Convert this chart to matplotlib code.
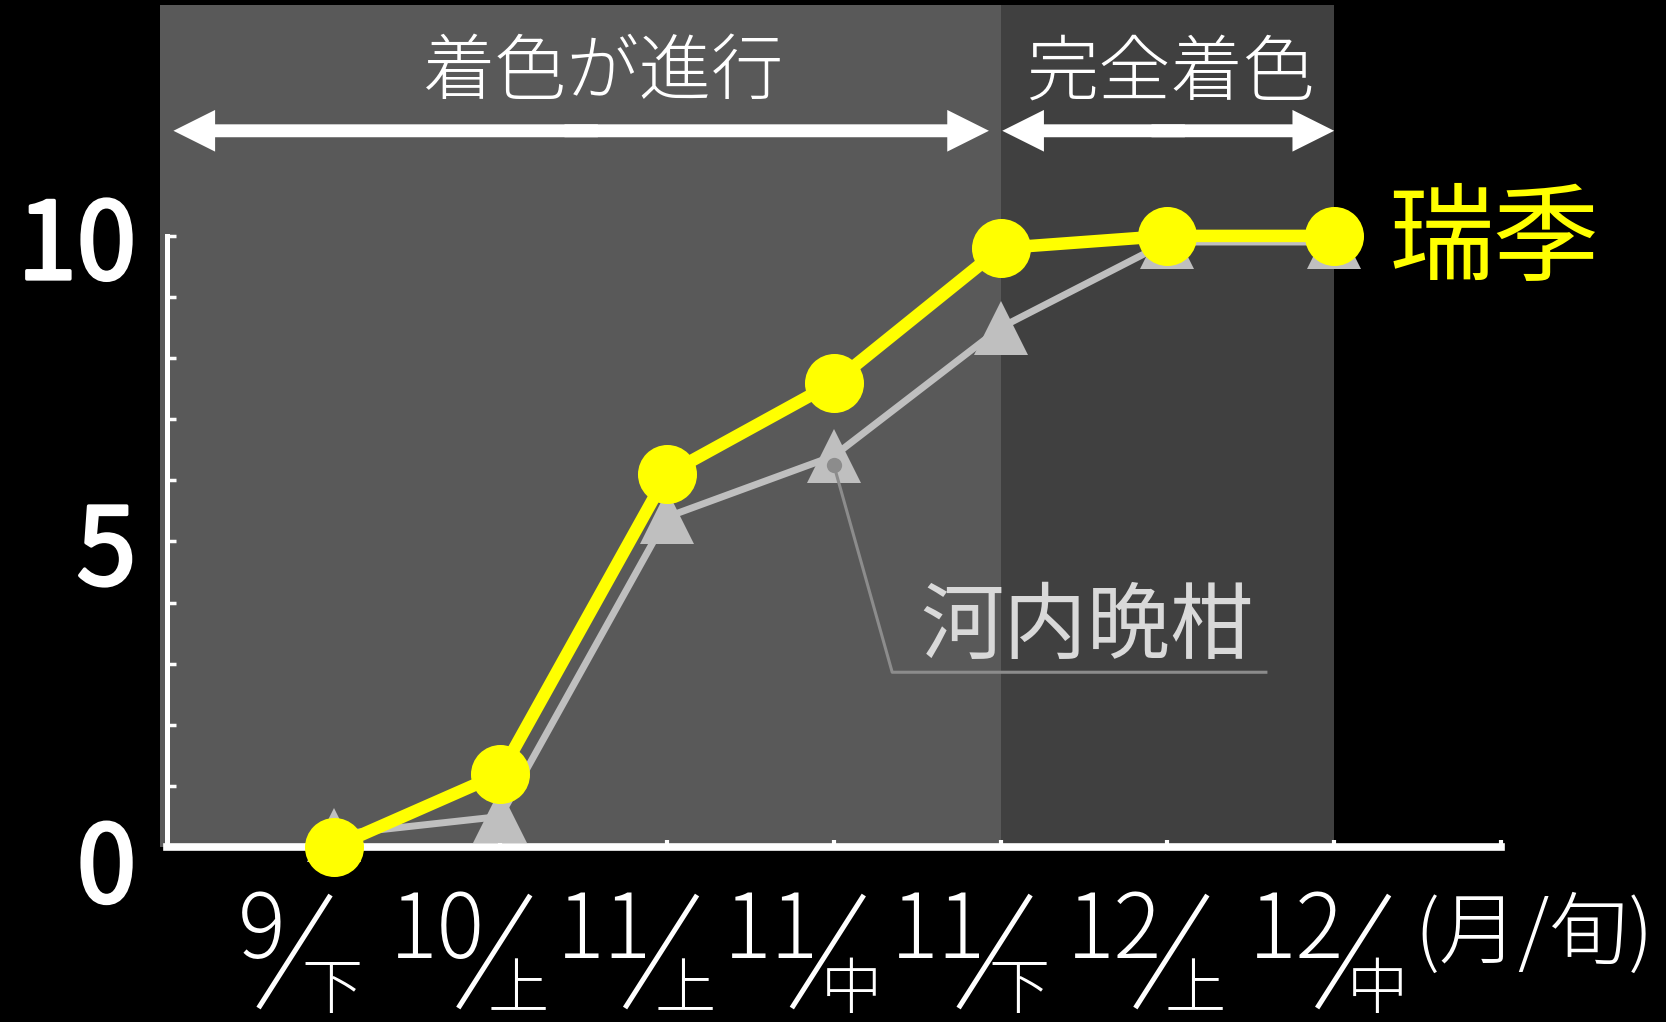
import matplotlib
matplotlib.use("Agg")
import matplotlib.pyplot as plt
import matplotlib.transforms as mtransforms
import matplotlib.patheffects as pe
from matplotlib.lines import Line2D

plt.rcParams['font.family'] = ['Noto Sans CJK JP', 'DejaVu Sans']

# 月 / 旬
months = ["9", "10", "11", "11", "11", "12", "12"]
periods = ["下", "上", "上", "中", "下", "上", "中"]
unit_label = "(月/旬)"

# coloring index (0-10)
zuiki = [0.0, 1.2, 6.1, 7.6, 9.8, 10.0, 10.0]
kawachi = [0.2, 0.5, 5.4, 6.4, 8.5, 9.9, 9.9]

phase_names = ["着色が進行", "完全着色"]
phase_spans = [(-1.04, 4.0), (4.0, 6.0)]
arrow_spans = [(-0.96, 3.93), (4.01, 6.0)]
phase_label_x = [1.62, 5.02]
phase_colors = ["#595959", "#404040"]

x = list(range(len(months)))

fig = plt.figure(figsize=(16.66, 10.22), dpi=100, facecolor="black")
ax = fig.add_axes([0.1001, 0.1712, 0.8008, 0.8288])
ax.set_facecolor("black")
ax.set_xlim(-1, 7)
ax.set_ylim(0, 13.86)

# background bands for each phase
for (x0, x1), c in zip(phase_spans, phase_colors):
    ax.fill_between([x0, x1], 0, 13.78, color=c, lw=0, clip_on=False, zorder=0)

# double arrows (two halves overlapping in the middle) + phase titles
arrow_y = 11.72
for name, (a0, a1), tx in zip(phase_names, arrow_spans, phase_label_x):
    mid = (a0 + a1) / 2
    for end, start in ((a0, mid + 0.1), (a1, mid - 0.1)):
        ax.annotate("", xy=(end, arrow_y), xytext=(start, arrow_y),
                    arrowprops=dict(arrowstyle="simple,head_length=1,head_width=1,tail_width=0.31",
                                    color="white", lw=0, shrinkA=0, shrinkB=0,
                                    mutation_scale=30),
                    annotation_clip=False)
    ax.text(tx, 12.65, name, ha="center", va="center", fontsize=52,
            color="white", fontweight="light")

# series
ax.plot(x, kawachi, color="#bfbfbf", lw=5, marker="^", ms=39, mew=0,
        clip_on=False, zorder=3)
ax.plot(x, zuiki, color="#ffff00", lw=9, marker="o", ms=42.5, mew=0,
        clip_on=False, zorder=4)

# 河内晩柑 leader
dot_y = kawachi[3] - 0.15
ax.plot([x[3], 3.35, 5.60], [dot_y, 2.86, 2.86], color="#8c8c8c", lw=2.2,
        zorder=5, solid_capstyle="butt")
ax.plot([x[3]], [dot_y], "o", color="#8c8c8c", ms=11, mew=0, zorder=5)
ax.text(3.52, 3.58, "河内晩柑", ha="left", va="center", fontsize=60,
        color="#d9d9d9")

# 瑞季 label next to last point
ax.annotate("瑞季", xy=(x[-1], zuiki[-1]), xytext=(54, -6),
            textcoords="offset pixels", ha="left", va="center",
            fontsize=76, color="#ffff00", annotation_clip=False)

# axes
for s in ["top", "right"]:
    ax.spines[s].set_visible(False)
ax.spines["left"].set_bounds(0, 10)
ax.spines["left"].set_color("white")
ax.spines["left"].set_linewidth(3.6)
ax.spines["bottom"].set_color("white")
ax.spines["bottom"].set_linewidth(5.5)
ax.spines["bottom"].set_zorder(2)

ax.set_yticks([0, 5, 10])
ax.set_yticklabels(["0", "5", "10"])
ax.set_yticks(range(11), minor=True)
ax.tick_params(axis="y", which="both", direction="in", length=6.5, width=2.5,
               color="white", labelcolor="white", labelsize=77, pad=22)
for lab in ax.get_yticklabels():
    lab.set_path_effects([pe.withStroke(linewidth=2.5, foreground="white")])
zero_lab = ax.get_yticklabels()[0]
zero_lab.set_transform(zero_lab.get_transform()
                       + mtransforms.ScaledTranslation(0, -0.12, fig.dpi_scale_trans))

ax.set_xticks(range(8))
ax.set_xticklabels([])
ax.tick_params(axis="x", direction="in", length=5, width=3, color="white")

# category labels: month / period with a slanted divider
nudge = [0, 0, 0, 0, 0, 10, 25]
for i, (m, p) in enumerate(zip(months, periods)):
    top = (-3 if len(m) == 1 else 30) + nudge[i]
    kdx = top + 1 if len(m) == 1 else top - 12
    ax.annotate(m, xy=(i, 0), xytext=(top - 45, -111), textcoords="offset pixels",
                ha="right", va="baseline", fontsize=64, color="white",
                fontweight="light", annotation_clip=False)
    ax.annotate(p, xy=(i, 0), xytext=(kdx, -161), textcoords="offset pixels",
                ha="center", va="baseline", fontsize=44, color="white",
                fontweight="light", annotation_clip=False)
    tr = mtransforms.ScaledTranslation(i, 0, ax.transData)
    ax.add_artist(Line2D([top, top - 72], [-48, -161], transform=tr,
                         color="white", lw=3.6, solid_capstyle="butt",
                         clip_on=False))

ax.annotate(unit_label, xy=(x[-1], 0), xytext=(80, -111), textcoords="offset pixels",
            ha="left", va="baseline", fontsize=57, color="white",
            fontweight="light", annotation_clip=False)

fig.savefig("out.png", dpi=100, facecolor="black")
